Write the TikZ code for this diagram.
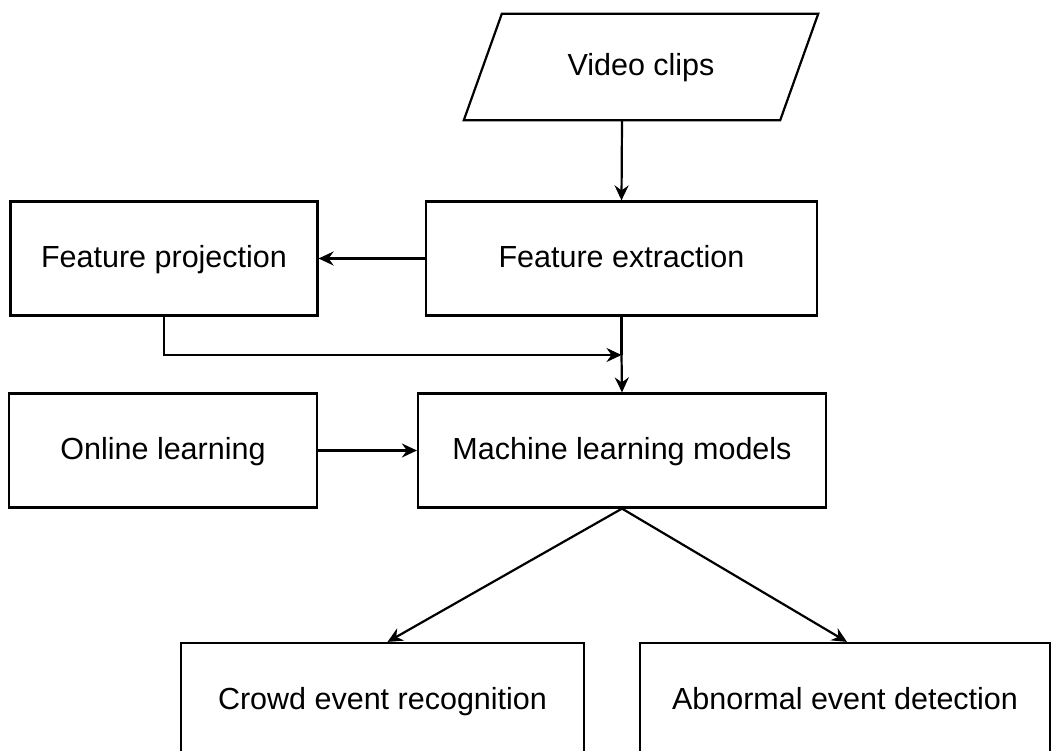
\documentclass[tikz,border=0pt]{standalone}
\usepackage{fontspec}
\setmainfont{Liberation Sans}
\usetikzlibrary{arrows.meta}
\usetikzlibrary{positioning}

\tikzset{
	blockbox/.style={draw, line width=2.2pt, rectangle, minimum width=#1, minimum height=114pt, inner sep=0pt,
		text height=24pt, text depth=6pt},
	flow/.style={line width=2.2pt, -{Stealth[length=15pt,width=14pt,inset=5pt]}},
	plainline/.style={line width=2.2pt}
}

\begin{document}
\begin{tikzpicture}[x=1pt, y=-1pt, font=\fontsize{30.5}{36}\selectfont]
	\useasboundingbox (0,0) rectangle (1051,751);
	% input
	\node[minimum width=316pt, minimum height=106pt, inner sep=0pt, text height=24pt, text depth=6pt] (vid) at (641,67) {Video clips};
	\draw[plainline, line join=miter] ([xshift=-19pt]vid.south west) -- ([xshift=19pt]vid.north west)
		-- ([xshift=19pt]vid.north east) -- ([xshift=-19pt]vid.south east) -- cycle;
	% features
	\node[blockbox=391pt] (fext) at (621.5,258.5) {Feature extraction};
	\node[blockbox=307pt] (fproj) at (164,258.5) {Feature projection};
	% learning
	\node[blockbox=308pt] (onl) at (163,450.5) {Online learning};
	\node[blockbox=408pt] (ml) at (622,450.5) {Machine learning models};
	% outputs
	\node[blockbox=403pt] (crowd) at (382.5,700) {Crowd event recognition};
	\node[blockbox=410pt] (abn) at (845,700) {Abnormal event detection};
	\coordinate (join) at (621.5,355);
	% arrows
	\draw[flow] ([xshift=-19pt]vid.south) -- (fext.north);
	\draw[flow] (fext.west) -- (fproj.east);
	\draw[flow] (fproj.south) |- (join);
	\draw[plainline] (fext.south) -- (join);
	\draw[flow] (join) -- (ml.north);
	\draw[flow] (onl.east) -- (ml.west);
	\draw[flow] (ml.south) -- ([xshift=5pt]crowd.north);
	\draw[flow] (ml.south) -- ([xshift=2pt]abn.north);
\end{tikzpicture}
\end{document}
